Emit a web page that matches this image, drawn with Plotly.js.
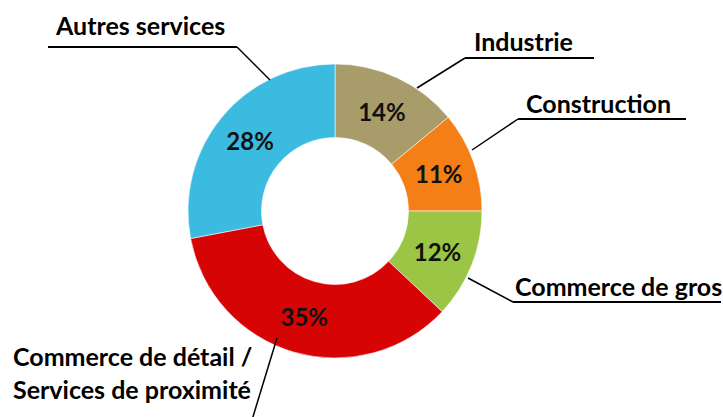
<!DOCTYPE html>
<html>
<head>
<meta charset="utf-8">
<script src="https://cdn.plot.ly/plotly-3.0.1.min.js"></script>
<style>html,body{margin:0;padding:0;background:#fff;}#chart{width:723px;height:417px;}</style>
</head>
<body>
<div id="chart"></div>
<script>
// Data
const categories = ["Industrie", "Construction", "Commerce de gros", "Commerce de détail /<br>Services de proximité", "Autres services"];
const shares = [14, 11, 12, 35, 28];
const sliceColors = ["#A89C6A", "#F57F17", "#9BC645", "#D60404", "#3BBBE0"];

const W = 723, H = 417;
const px = x => x / W;
const py = y => 1 - y / H;

// Label layout (pixel positions): text anchor, underline, leader end on ring
const labelLayout = [
  {tx: 472, ty: 41, ul: [465, 594, 58], leader: [417, 88]},
  {tx: 524, ty: 103, ul: [518, 686, 119], leader: [472, 150]},
  {tx: 513, ty: 286, ul: [513, 721, 302], leader: [468, 278]},
  {tx: 11, ty: 372, ul: null, leader: [277, 338], leaderStart: [252, 420]},
  {tx: 53, ty: 25, ul: [48, 237, 47], leader: [270, 80]}
];

const annotations = [];
const shapes = [];
categories.forEach((c, i) => {
  const L = labelLayout[i];
  annotations.push({
    text: c, xref: 'paper', yref: 'paper', x: px(L.tx), y: py(L.ty),
    xanchor: 'left', yanchor: 'middle', align: 'left', showarrow: false,
    font: {family: 'Lato', size: 25, color: '#000', weight: 'bold'}
  });
  if (L.ul) {
    shapes.push({type: 'line', xref: 'paper', yref: 'paper',
      x0: px(L.ul[0]), x1: px(L.ul[1]), y0: py(L.ul[2]), y1: py(L.ul[2]),
      line: {color: '#000', width: 2}});
    const sx = (L.tx < 300) ? L.ul[1] : L.ul[0];
    shapes.push({type: 'line', xref: 'paper', yref: 'paper',
      x0: px(sx), y0: py(L.ul[2]), x1: px(L.leader[0]), y1: py(L.leader[1]),
      line: {color: '#000', width: 1.5}});
  } else {
    shapes.push({type: 'line', xref: 'paper', yref: 'paper',
      x0: px(L.leaderStart[0]), y0: py(L.leaderStart[1]), x1: px(L.leader[0]), y1: py(L.leader[1]),
      line: {color: '#000', width: 1.5}});
  }
});

const cx = 335, cy = 211, R = 147;
const trace = {
  type: 'pie',
  labels: categories,
  values: shares,
  sort: false,
  direction: 'clockwise',
  rotation: 0,
  hole: 0.5,
  marker: {colors: sliceColors, line: {color: 'rgba(255,255,255,0.55)', width: 1}},
  texttemplate: '%{value}%',
  textposition: 'inside',
  insidetextorientation: 'horizontal',
  textfont: {family: 'Lato', size: 24, color: '#111', weight: 'bold'},
  showlegend: false,
  hoverinfo: 'none',
  domain: {x: [px(cx - R), px(cx + R)], y: [py(cy + R), py(cy - R)]}
};

Plotly.newPlot('chart', [trace], {
  width: W, height: H,
  margin: {l: 0, r: 0, t: 0, b: 0},
  paper_bgcolor: '#fff',
  showlegend: false,
  annotations: annotations,
  shapes: shapes
}, {displayModeBar: false, staticPlot: true});
</script>
</body>
</html>
